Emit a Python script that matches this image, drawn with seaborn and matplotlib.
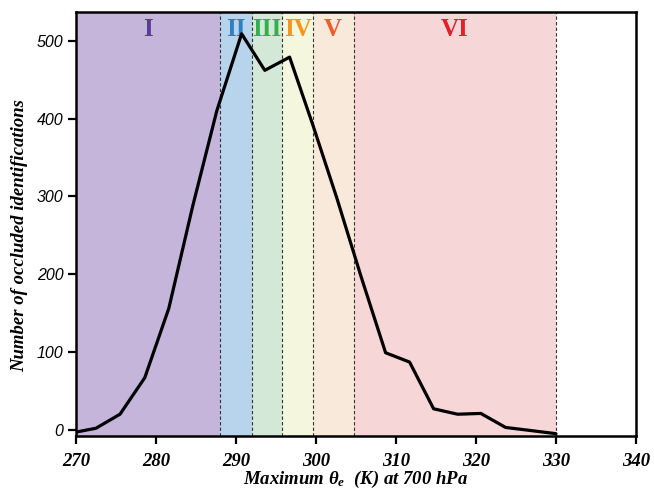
import matplotlib
matplotlib.use("Agg")
import matplotlib.pyplot as plt
import seaborn as sns
import pandas as pd

# data
theta_e = [270.0, 272.5, 275.5, 278.6, 281.6, 284.6, 287.6, 290.7, 293.6, 296.7,
           299.6, 302.6, 305.6, 308.7, 311.7, 314.7, 317.7, 320.6, 323.7, 330.0]
counts = [-3, 2, 20, 67, 156, 288, 410, 509, 462, 479,
          392, 298, 198, 99, 87, 27, 20, 21, 3, -5]

regime_labels = ["I", "II", "III", "IV", "V", "VI"]
regime_edges = [270, 288.0, 292.0, 295.8, 299.6, 304.7, 330.0]
regime_fill = ["#c6b5da", "#b7d4ec", "#d3e8d6", "#f4f7dd", "#f8e9da", "#f6d6d6"]
regime_text = ["#5b3a9b", "#2f80c3", "#34b04a", "#f7941d", "#f15a29", "#e0202a"]

xticks = [270, 280, 290, 300, 310, 320, 330, 340]
yticks = [0, 100, 200, 300, 400, 500]

sns.set_style("ticks")
plt.rcParams["text.color"] = "black"
plt.rcParams["axes.labelcolor"] = "black"
plt.rcParams["xtick.color"] = "black"
plt.rcParams["ytick.color"] = "black"
plt.rcParams["mathtext.fontset"] = "custom"
plt.rcParams["mathtext.rm"] = "Liberation Serif:bold:italic"
plt.rcParams["mathtext.it"] = "Liberation Serif:bold:italic"
plt.rcParams["mathtext.bf"] = "Liberation Serif:bold:italic"

fig = plt.figure(figsize=(6.54, 4.96), dpi=100)
ax = fig.add_axes([76/654, 1 - 436/496, (636 - 76)/654, (436 - 12)/496])

for i, lab in enumerate(regime_labels):
    x0, x1 = regime_edges[i], regime_edges[i + 1]
    ax.axvspan(x0, x1, color=regime_fill[i], lw=0, zorder=0)
    ax.text((x0 + x1) / 2, 515, lab, ha="center", va="center",
            fontsize=18, fontweight="bold", family="Liberation Serif",
            color=regime_text[i], zorder=3)
for e in regime_edges[1:]:
    ax.axvline(e, color="#333333", lw=0.8, ls=(0, (3, 2)), zorder=1)

df = pd.DataFrame({"theta": theta_e, "count": counts})
sns.lineplot(data=df, x="theta", y="count", ax=ax, color="black", lw=2.3,
             zorder=4, sort=False)

ax.set_xlim(270, 340)
ax.set_ylim(-8, 537)
ax.set_xticks(xticks)
ax.set_yticks(yticks)
ax.set_xticklabels([str(t) for t in xticks], family="Liberation Serif",
                   fontweight="bold", fontstyle="italic", fontsize=13.5,
                   color="black")
ax.set_yticklabels([str(t) for t in yticks], family="Liberation Sans",
                   fontstyle="italic", fontsize=11.5, color="black")
ax.tick_params(axis="both", direction="out", length=6, width=1.6, color="black")
ax.tick_params(axis="x", pad=6)
ax.tick_params(axis="y", pad=3)
for s in ax.spines.values():
    s.set_linewidth(1.8)
    s.set_color("black")
    s.set_zorder(5)

ax.set_xlabel(r"Maximum $\theta_e$  (K) at 700 hPa", family="Liberation Serif",
              fontweight="bold", fontstyle="italic", fontsize=13.5, color="black")
ax.set_ylabel("Number of occluded identifications", family="Liberation Serif",
              fontweight="bold", fontstyle="italic", fontsize=13.5, color="black")
ax.xaxis.set_label_coords(0.5, (436 - 469) / 424)
ax.yaxis.set_label_coords((28 - 76) / 560, (436 - 236) / 424)

fig.savefig("out.png", dpi=100)
